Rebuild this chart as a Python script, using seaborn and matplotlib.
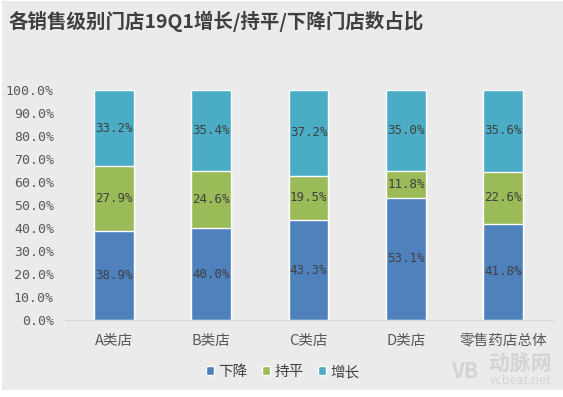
import matplotlib
matplotlib.use('Agg')
import matplotlib.pyplot as plt
import seaborn as sns
import pandas as pd
from matplotlib.patches import Rectangle
from matplotlib.ticker import FuncFormatter

sns.set_style('white')
plt.rcParams['font.family'] = ['Noto Sans CJK SC', 'DejaVu Sans']

# 数据
categories = ['A类店', 'B类店', 'C类店', 'D类店', '零售药店总体']
decline = [38.9, 40.0, 43.3, 53.1, 41.8]   # 下降
flat = [27.9, 24.6, 19.5, 11.8, 22.6]      # 持平
growth = [33.2, 35.4, 37.2, 35.0, 35.6]    # 增长

colors = {'下降': '#4f81bd', '持平': '#9bbb59', '增长': '#4bacc6'}
bg = '#ebebeb'
txt = '#404040'
num_font = ['DejaVu Sans Mono']

df = pd.DataFrame({'cat': categories, '下降': decline, '持平': flat, '增长': growth})
df['c1'] = df['下降'] / 100
df['c2'] = (df['下降'] + df['持平']) / 100
df['c3'] = (df['下降'] + df['持平'] + df['增长']) / 100

fig = plt.figure(figsize=(5.63, 3.97), dpi=100)
fig.patch.set_facecolor('white')
fig.patches.append(Rectangle((2 / 563, 7 / 397), 1 - 2 / 563, 1 - 8 / 397,
                             transform=fig.transFigure, facecolor=bg,
                             edgecolor='none', zorder=-10))

ax = fig.add_axes([65 / 563, 77 / 397, 487 / 563, 230 / 397])
ax.set_facecolor(bg)

w = 0.41
sns.barplot(data=df, x='cat', y='c3', color=colors['增长'], width=w,
            saturation=1, ax=ax, label='增长')
sns.barplot(data=df, x='cat', y='c2', color=colors['持平'], width=w,
            saturation=1, ax=ax, label='持平')
sns.barplot(data=df, x='cat', y='c1', color=colors['下降'], width=w,
            saturation=1, ax=ax, label='下降')

# 数据标签
for i, row in df.iterrows():
    for key, lo, hi in [('下降', 0, row['c1']), ('持平', row['c1'], row['c2']),
                        ('增长', row['c2'], row['c3'])]:
        ax.text(i, (lo + hi) / 2, f'{row[key]:.1f}%', ha='center', va='center',
                fontsize=9, color=txt, family=num_font)

ax.set_ylim(0, 1)
ax.set_xlim(-0.5, 4.5)
ax.set_yticks([i / 10 for i in range(11)])
ax.yaxis.set_major_formatter(FuncFormatter(lambda v, p: f'{v * 100:.1f}%'))
ax.tick_params(axis='y', length=0, labelsize=9.5, labelcolor='#595959', pad=8)
ax.tick_params(axis='x', length=0, labelsize=10.5, labelcolor='#595959', pad=10)
for lab in ax.get_yticklabels():
    lab.set_family(num_font)
ax.set_xlabel('')
ax.set_ylabel('')
for s in ['top', 'right', 'left']:
    ax.spines[s].set_visible(False)
ax.spines['bottom'].set_color('#d9d9d9')
ax.spines['bottom'].set_linewidth(0.8)

# 图例
handles, labels = ax.get_legend_handles_labels()
order = [labels.index(k) for k in ['下降', '持平', '增长']]
fig.legend([handles[k] for k in order], ['下降', '持平', '增长'],
           loc='center', bbox_to_anchor=(283 / 563, 1 - 372 / 397), ncol=3,
           frameon=False, fontsize=10.5, handlelength=0.55, handleheight=0.55,
           handletextpad=0.3, columnspacing=1.0, labelcolor='#404040')
if ax.get_legend() is not None:
    ax.get_legend().remove()

# 标题
fig.text(8 / 563, 1 - 21 / 397, '各销售级别门店19Q1增长/持平/下降门店数占比',
         fontsize=14, fontweight='bold', color=txt, ha='left', va='center')

# 水印
fig.text(465 / 563, 1 - 371 / 397, 'VB', fontsize=15, fontweight='bold',
         color='#d4d4d4', ha='center', va='center')
fig.text(520 / 563, 1 - 363 / 397, '动脉网', fontsize=15, fontweight='bold',
         color='#d4d4d4', ha='center', va='center')
fig.text(521 / 563, 1 - 381 / 397, 'vcbeat.net', fontsize=9,
         color='#d4d4d4', ha='center', va='center')

fig.savefig('out.png', dpi=100, facecolor=fig.get_facecolor())
